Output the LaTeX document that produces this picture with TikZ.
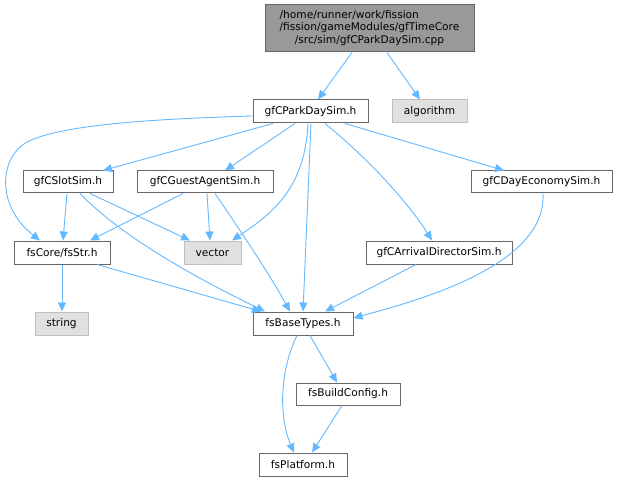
\documentclass[tikz,border=0pt]{standalone}
\usepackage{fontspec}
\setmainfont{DejaVu Sans}
\usetikzlibrary{arrows.meta}
\definecolor{edgeblue}{HTML}{63B8FF}
\definecolor{boxline}{HTML}{666666}
\definecolor{sysline}{HTML}{BFBFBF}
\definecolor{sysfill}{HTML}{E0E0E0}
\definecolor{mainfill}{HTML}{999999}
\tikzset{
    file/.style={draw=boxline, fill=white, line width=1pt, inner sep=0pt, minimum height=23pt, font=\fontsize{10.6}{12.5}\selectfont},
    sysfile/.style={file, draw=sysline, fill=sysfill},
    mainfile/.style={file, fill=mainfill},
    dep/.style={draw=edgeblue, line width=0.9pt, -{Triangle[length=9pt,width=8pt]}}
}

\begin{document}
\begin{tikzpicture}[x=1pt, y=-1pt]
    \useasboundingbox (0,0) rectangle (618,481);
    \node[mainfile, minimum width=209pt, minimum height=47pt] (simcpp) at (369.5,28.5)
        {\begin{tabular}{@{}l@{}}/home/runner/work/fission\\/fission/gameModules/gfTimeCore\\\multicolumn{1}{@{}c@{}}{/src/sim/gfCParkDaySim.cpp}\end{tabular}};
    \node[file, minimum width=115pt] (parkday) at (310.5,111.5) {gfCParkDaySim.h};
    \node[sysfile, minimum width=75pt] (algorithm) at (429.5,111.5) {algorithm};
    \node[file, minimum width=90pt, minimum height=22pt] (slotsim) at (68,182) {gfCSlotSim.h};
    \node[file, minimum width=136pt, minimum height=22pt] (guestagent) at (205,182) {gfCGuestAgentSim.h};
    \node[file, minimum width=141pt, minimum height=22pt] (dayeconomy) at (541.5,182) {gfCDayEconomySim.h};
    \node[file, minimum width=96pt] (fsstr) at (62,252.5) {fsCore/fsStr.h};
    \node[sysfile, minimum width=57pt] (vector) at (212.5,252.5) {vector};
    \node[file, minimum width=146pt] (arrival) at (439,252.5) {gfCArrivalDirectorSim.h};
    \node[sysfile, minimum width=53pt] (string) at (61.5,323.5) {string};
    \node[file, minimum width=100pt] (basetypes) at (303,323.5) {fsBaseTypes.h};
    \node[file, minimum width=104pt, minimum height=22pt] (buildconfig) at (348,394) {fsBuildConfig.h};
    \node[file, minimum width=88pt] (platform) at (303,464.5) {fsPlatform.h};

    \draw[dep] ([xshift=-17.5pt]simcpp.south) -- ([xshift=7.5pt]parkday.north);
    \draw[dep] ([xshift=17.5pt]simcpp.south) -- ([xshift=-9.5pt]algorithm.north);
    \draw[dep] ([yshift=-4.5pt]parkday.west) .. controls (150,119) and (60,125) .. (27,142)
        .. controls (0,157) and (-5,205) .. ([xshift=-22pt]fsstr.north);
    \draw[dep] ([xshift=-37.5pt]parkday.south) -- ([xshift=35pt]slotsim.north);
    \draw[dep] ([xshift=-15.5pt]parkday.south) -- ([xshift=20pt]guestagent.north);
    \draw[dep] ([xshift=-2.5pt]parkday.south) .. controls (305,190) and (270,215) .. ([xshift=19.5pt]vector.north);
    \draw[dep] ([xshift=0.5pt]parkday.south) -- (basetypes.north);
    \draw[dep] ([xshift=14.5pt]parkday.south) .. controls (370,160) and (410,205) .. ([xshift=-7pt]arrival.north);
    \draw[dep] ([xshift=34.5pt]parkday.south) -- ([xshift=-37.5pt]dayeconomy.north);
    \draw[dep] ([xshift=-1pt]slotsim.south) -- ([xshift=1pt]fsstr.north);
    \draw[dep] ([xshift=22pt]slotsim.south) -- ([xshift=-22.5pt]vector.north);
    \draw[dep] ([xshift=12pt]slotsim.south) .. controls (120,235) and (190,275) .. ([xshift=-38pt]basetypes.north);
    \draw[dep] ([xshift=-22pt]guestagent.south) -- ([xshift=28pt]fsstr.north);
    \draw[dep] ([xshift=2pt]guestagent.south) -- ([xshift=-2.5pt]vector.north);
    \draw[dep] ([xshift=10pt]guestagent.south) .. controls (240,230) and (270,275) .. ([xshift=-13pt]basetypes.north);
    \draw[dep] ([xshift=1.5pt]dayeconomy.south) .. controls (547,265) and (420,300) .. ([yshift=5.5pt]basetypes.east);
    \draw[dep] ([xshift=-23pt]arrival.south) -- ([xshift=22pt]basetypes.north);
    \draw[dep] (fsstr.south) -- ([xshift=0.5pt]string.north);
    \draw[dep] ([xshift=35pt]fsstr.south) -- ([xshift=-42pt]basetypes.north);
    \draw[dep] ([xshift=7pt]basetypes.south) -- ([xshift=-11pt]buildconfig.north);
    \draw[dep] ([xshift=-6pt]basetypes.south) .. controls (278,375) and (280,420) .. ([xshift=-9pt]platform.north);
    \draw[dep] ([xshift=-6pt]buildconfig.south) -- ([xshift=9pt]platform.north);
\end{tikzpicture}
\end{document}
